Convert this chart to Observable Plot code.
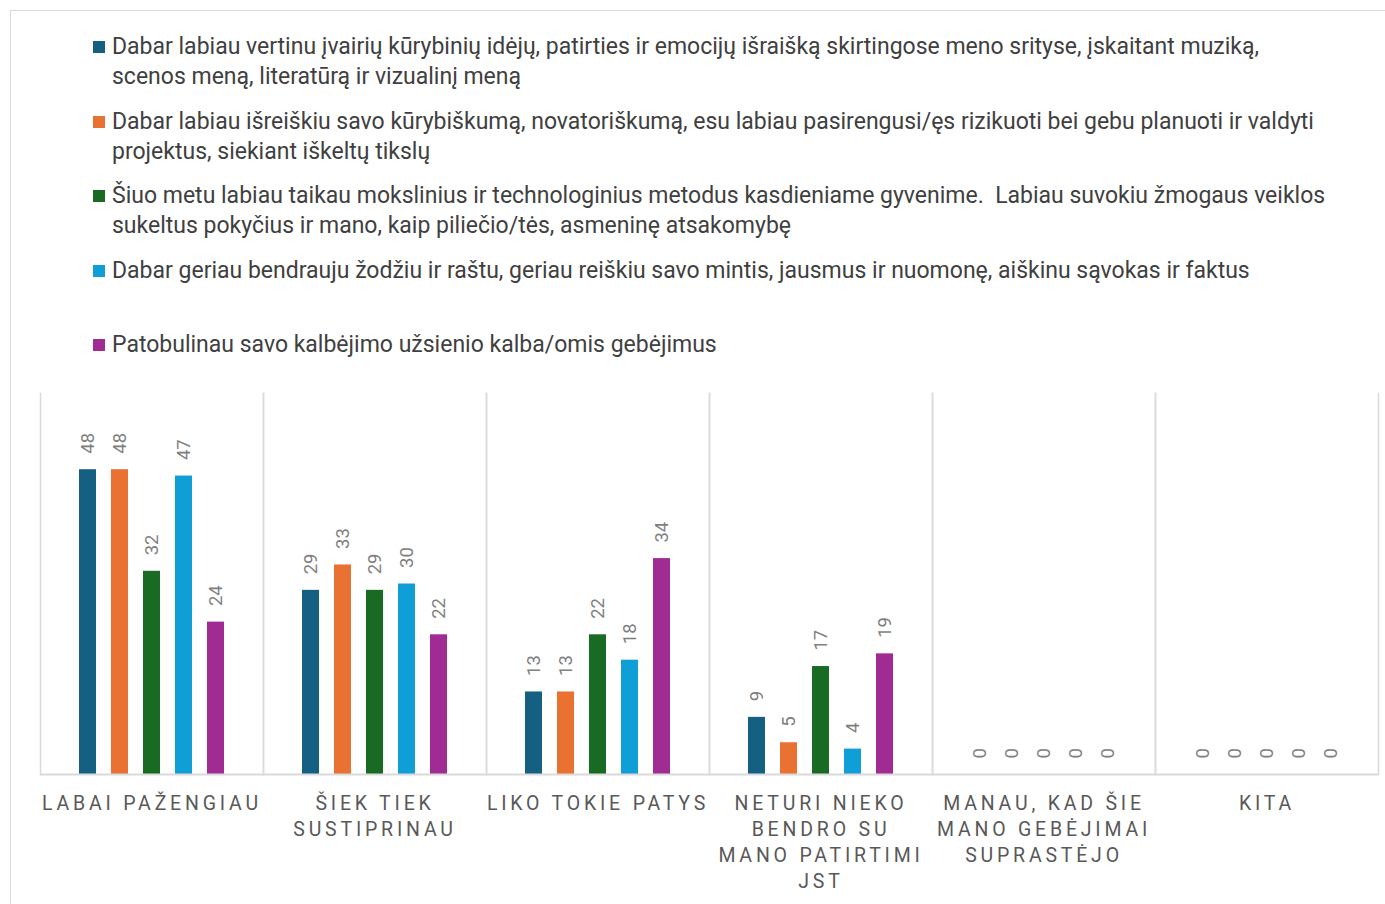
<!DOCTYPE html>
<html><head><meta charset="utf-8">
<script src="https://cdn.jsdelivr.net/npm/d3@7"></script>
<script src="https://cdn.jsdelivr.net/npm/@observablehq/plot@0.6"></script>
<style>
body{margin:0;background:#fff;font-family:Roboto, "Noto Sans", sans-serif;overflow:hidden;width:1385px;height:904px;position:relative}
#border{position:absolute;left:10px;top:10px;width:1400px;height:1000px;border:1px solid #d9d9d9;box-sizing:border-box}
#legend{position:absolute;left:93px;top:32px;width:1285px}
.item{display:flex;align-items:flex-start;height:74.5px}
.sw{width:12px;height:12px;margin-top:9px;margin-right:7px;flex:none}
.lt{line-height:30px;color:#404040;white-space:pre;font-size:20px}
#chart{position:absolute;left:0;top:380px}
#chart g[aria-label="fx-axis tick label"] text{letter-spacing:var(--ls,0px)}
</style>
</head><body>
<div id="border"></div>
<div id="legend"></div>
<div id="chart"></div>
<script>
const categories = ["LABAI PAŽENGIAU","ŠIEK TIEK SUSTIPRINAU","LIKO TOKIE PATYS","NETURI NIEKO BENDRO SU MANO PATIRTIMI JST","MANAU, KAD ŠIE MANO GEBĖJIMAI SUPRASTĖJO","KITA"];
const categoryLabels = ["LABAI PAŽENGIAU","ŠIEK TIEK\nSUSTIPRINAU","LIKO TOKIE PATYS","NETURI NIEKO\nBENDRO SU\nMANO PATIRTIMI\nJST","MANAU, KAD ŠIE\nMANO GEBĖJIMAI\nSUPRASTĖJO","KITA"];
const series = [
  "Dabar labiau vertinu įvairių kūrybinių idėjų, patirties ir emocijų išraišką skirtingose meno srityse, įskaitant muziką,\nscenos meną, literatūrą ir vizualinį meną",
  "Dabar labiau išreiškiu savo kūrybiškumą, novatoriškumą, esu labiau pasirengusi/ęs rizikuoti bei gebu planuoti ir valdyti\nprojektus, siekiant iškeltų tikslų",
  "Šiuo metu labiau taikau mokslinius ir technologinius metodus kasdieniame gyvenime.  Labiau suvokiu žmogaus veiklos\nsukeltus pokyčius ir mano, kaip piliečio/tės, asmeninę atsakomybę",
  "Dabar geriau bendrauju žodžiu ir raštu, geriau reiškiu savo mintis, jausmus ir nuomonę, aiškinu sąvokas ir faktus",
  "Patobulinau savo kalbėjimo užsienio kalba/omis gebėjimus"
];
const colors = ["#156082","#E97132","#196B24","#0F9ED5","#A02B93"];
const series1 = [48,29,13,9,0,0];
const series2 = [48,33,13,5,0,0];
const series3 = [32,29,22,17,0,0];
const series4 = [47,30,18,4,0,0];
const series5 = [24,22,34,19,0,0];
const seriesValues = [series1,series2,series3,series4,series5];

const FONT = 'Roboto';

const legend = document.getElementById("legend");
const texts = [];
series.forEach((s,i)=>{
  const it = document.createElement("div"); it.className="item";
  const sw = document.createElement("div"); sw.className="sw"; sw.style.background = colors[i];
  const t = document.createElement("div"); t.className="lt"; t.textContent = s;
  it.appendChild(sw); it.appendChild(t); legend.appendChild(it); texts.push(t);
});
// fit legend font size so the first line spans like the reference (112 -> 1275)
{
  const probe = document.createElement("span");
  probe.style.cssText = "position:absolute;visibility:hidden;white-space:pre;font-size:20px;font-family:" + FONT;
  probe.textContent = series[0].split("\n")[0];
  document.body.appendChild(probe);
  const w = probe.getBoundingClientRect().width;
  const fs = Math.max(18, Math.min(23, 20 * 1180 / w));
  probe.remove();
  texts.forEach(t => t.style.fontSize = fs + "px");
}

const data = [];
categories.forEach((c,i)=> seriesValues.forEach((vals,j)=> data.push({cat:c, ser:series[j], value: vals[i]})));

const axisSize = 19.5;

const chart = Plot.plot({
  width: 1385, height: 520,
  marginLeft: 40, marginRight: 7, marginTop: 13, marginBottom: 126,
  style: {fontFamily: FONT, background: "transparent", overflow: "visible"},
  fx: {domain: categories, padding: 0, label: null},
  x: {domain: series, paddingInner: 0.477, paddingOuter: 1.169, axis: null},
  y: {domain: [0, 60], axis: null},
  color: {domain: series, range: colors},
  marks: [
    Plot.frame({anchor: "left", stroke: "#d9d9d9", strokeWidth: 1.5}),
    Plot.frame({anchor: "right", stroke: "#d9d9d9", strokeWidth: 1.5}),
    Plot.barY(data, {fx: "cat", x: "ser", y: "value", fill: "ser"}),
    Plot.ruleY([0], {stroke: "#d9d9d9", strokeWidth: 2}),
    Plot.text(data, {fx: "cat", x: "ser", y: "value", text: d => String(d.value), rotate: -90, textAnchor: "start", dy: -16, fill: "#7f7f7f", fontSize: 18.5}),
    Plot.axisFx({anchor: "bottom", tickSize: 0, tickPadding: 17, fontSize: axisSize, lineHeight: 1.34, fill: "#595959", label: null,
      tickFormat: c => categoryLabels[categories.indexOf(c)]})
  ]
});
const holder = document.getElementById("chart");
holder.appendChild(chart);
// fit axis letter spacing so "LABAI PAŽENGIAU" spans ~216px
{
  const ts = chart.querySelectorAll('g[aria-label="fx-axis tick label"] text');
  const first = ts[0];
  if (first) {
    const w = first.getBBox().width;
    const n = "LABAI PAŽENGIAU".length;
    holder.style.setProperty("--ls", Math.max(0, (216 - w) / (n - 1)) + "px");
  }
}
</script>
</body></html>
